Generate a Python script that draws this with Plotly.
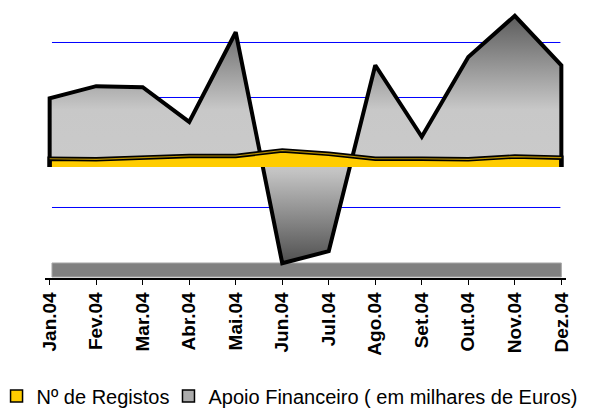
import plotly.graph_objects as go

# monthly data (arbitrary units)
months = ["Jan.04", "Fev.04", "Mar.04", "Abr.04", "Mai.04", "Jun.04",
          "Jul.04", "Ago.04", "Set.04", "Out.04", "Nov.04", "Dez.04"]
registos = [15, 14, 17, 20, 20, 30, 24, 15, 15, 14, 19, 17]
apoio = [110, 133, 128, 62, 225, -205, -177, 170, 40, 186, 256, 168]

FONT = "Arial, Liberation Sans, sans-serif"
YMIN, YMAX = -201.8, 289.1

idx = list(range(len(months)))
total = [r + a for r, a in zip(registos, apoio)]

fig = go.Figure()

#######################################
#   Apoio Financeiro (stacked, gradient)
#######################################
fig.add_trace(
    go.Scatter(
        x=[idx[0]] + idx + [idx[-1]],
        y=[0] + total + [0],
        mode="lines",
        fill="toself",
        fillgradient=dict(
            type="vertical",
            start=min(total),
            stop=max(total),
            colorscale=[
                [0.0, "#505050"],
                [0.36, "#c0c0c0"],
                [0.40, "#cacaca"],
                [0.62, "#c8c8c8"],
                [1.0, "#5c5c5c"],
            ],
        ),
        line=dict(color="black", width=4),
        showlegend=False,
        hoverinfo="skip",
    )
)

#######################################
#   Nº de Registos (front, yellow)
#######################################
fig.add_trace(
    go.Scatter(
        x=[idx[0]] + idx + [idx[-1]],
        y=[0] + registos + [0],
        mode="lines",
        fill="toself",
        fillcolor="#FFCC00",
        line=dict(color="black", width=4.5),
        showlegend=False,
        hoverinfo="skip",
    )
)
fig.add_trace(
    go.Scatter(
        x=idx,
        y=registos,
        mode="lines",
        line=dict(color="#B89000", width=1.2),
        showlegend=False,
        hoverinfo="skip",
    )
)

# legend entries
fig.add_trace(
    go.Scatter(
        x=[None], y=[None], mode="markers", name="Nº de Registos",
        marker=dict(symbol="square", size=12, color="#FFCC00",
                    line=dict(color="black", width=1.5)),
        legend="legend",
    )
)
fig.add_trace(
    go.Scatter(
        x=[None], y=[None], mode="markers",
        name="Apoio Financeiro ( em milhares de Euros)",
        marker=dict(symbol="square", size=12, color="#ababab",
                    line=dict(color="black", width=1.5)),
        legend="legend2",
    )
)

#######################################
#   Back wall gridlines and floor
#######################################
# nudged by half a pixel so the 1px lines land crisp
for gy in [-73.6, 126.4, 226.4]:
    fig.add_shape(type="line", layer="below", x0=0.05, x1=10.98, y0=gy, y1=gy,
                  line=dict(color="#0000ff", width=1))

fig.add_shape(type="rect", layer="below", x0=0.05, x1=11, y0=-200, y1=-174.5,
              fillcolor="#808080", line=dict(color="#a8a8a8", width=1))

legend_common = dict(
    xanchor="left",
    yanchor="middle",
    bgcolor="rgba(0,0,0,0)",
    font=dict(family=FONT, size=20, color="black"),
    itemwidth=30,
)

# the page body adds an 8px offset, so the figure is 8px smaller each way
fig.update_layout(
    width=592,
    height=401,
    margin=dict(l=37, r=34, t=0, b=131, autoexpand=False),
    paper_bgcolor="white",
    plot_bgcolor="white",
    font=dict(family=FONT, color="black"),
    legend=dict(x=-0.093, y=-0.437, **legend_common),
    legend2=dict(x=0.237, y=-0.437, **legend_common),
    xaxis=dict(
        range=[-0.1, 11.1],
        tickmode="array",
        tickvals=idx,
        ticktext=months,
        tickangle=-90,
        tickfont=dict(family=FONT, size=19, color="black", weight="bold"),
        ticks="outside",
        ticklen=5,
        tickcolor="black",
        showline=True,
        linecolor="black",
        linewidth=1.5,
        showgrid=False,
        zeroline=False,
    ),
    xaxis2=dict(
        overlaying="x",
        anchor="free",
        position=(0 - YMIN) / (YMAX - YMIN),
        range=[-0.1, 11.1],
        tickmode="array",
        tickvals=idx,
        showticklabels=False,
        ticks="outside",
        ticklen=5,
        tickcolor="black",
        showline=True,
        linecolor="black",
        linewidth=1.5,
        showgrid=False,
        zeroline=False,
    ),
    yaxis=dict(range=[YMIN, YMAX], visible=False, showgrid=False,
               zeroline=False),
)

fig.write_html("out.html")
